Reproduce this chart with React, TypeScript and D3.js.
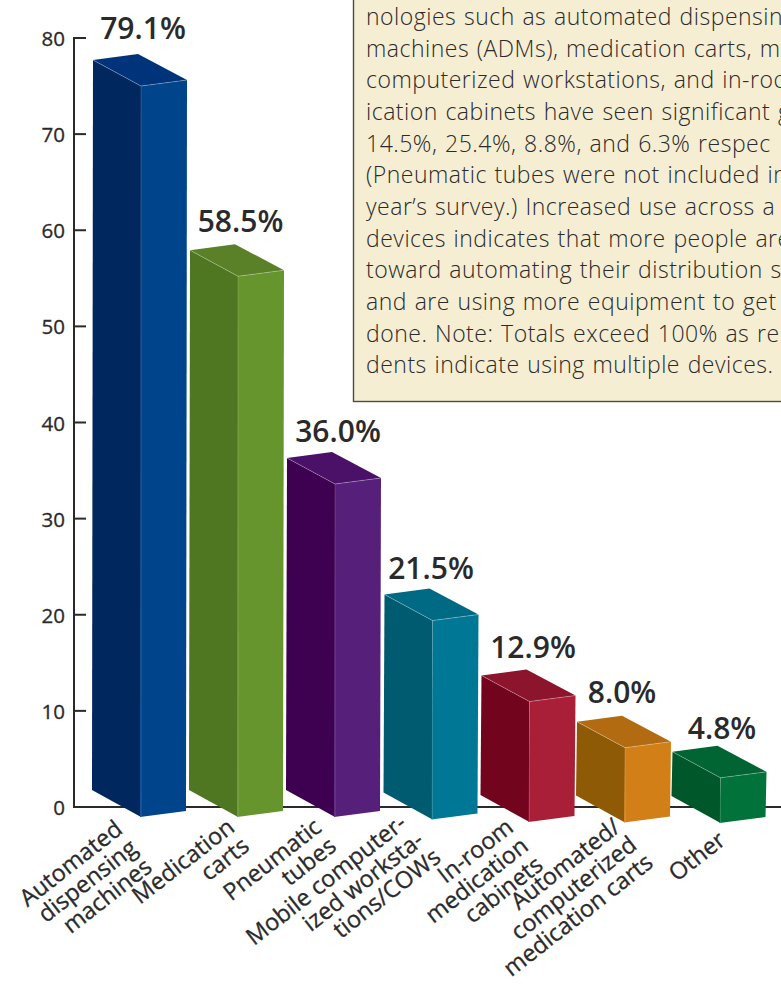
import React from "react";
import * as d3 from "d3";

const W = 781, H = 986;
const categories = [
  ["Automated", "dispensing", "machines"],
  ["Medication", "carts"],
  ["Pneumatic", "tubes"],
  ["Mobile computer-", "ized worksta-", "tions/COWs"],
  ["In-room", "medication", "cabinets"],
  ["Automated/", "computerized", "medication carts"],
  ["Other"],
];
const values = [79.1, 58.5, 36.0, 21.5, 12.9, 8.0, 4.8];
const ticks = [0, 10, 20, 30, 40, 50, 60, 70, 80];
const leftFaces = ["#00285f", "#4f7722", "#3e0050", "#005b70", "#72051d", "#8f5a05", "#00582a"];
const rightFaces = ["#00458c", "#66952e", "#56207a", "#007895", "#a91f38", "#d37f18", "#017239"];
const topFaces = ["#00337a", "#5a8028", "#4b1068", "#006a85", "#8c152d", "#b26b10", "#006533"];
const noteLines = [
  "nologies such as automated dispensin",
  "machines (ADMs), medication carts, m",
  "computerized workstations, and in-roo",
  "ication cabinets have seen significant g",
  "14.5%, 25.4%, 8.8%, and 6.3% respec",
  "(Pneumatic tubes were not included in",
  "year’s survey.) Increased use across a v",
  "devices indicates that more people are",
  "toward automating their distribution sy",
  "and are using more equipment to get",
  "done. Note: Totals exceed 100% as re",
  "dents indicate using multiple devices.",
];

const FONT = "'Open Sans', 'Noto Sans', sans-serif";
const INK = "#2b2a2b";

// Layout (pixels), kept apart from the data above
const barIdx = [0, 1, 2, 3, 4, 5, 6];
const yAxis = d3.scaleLinear().domain([0, 80]).range([807, 38]);
const yTop = d3.scaleLinear().domain([0, 36, 80]).range([791, 452, 45.7]);
const xBar = d3.scaleLinear().domain(barIdx).range([93, 190, 287, 384.5, 481.5, 577, 672.5]);
const yBase = d3.scaleLinear().domain([0, 2, 4, 6]).range([790, 790, 795, 796]);
const labelEndX = d3.scaleLinear().domain(barIdx).range([124, 236, 323, 408, 515, 622, 727]);
const labelEndY = d3.scaleLinear().domain(barIdx).range([832, 830, 830, 826, 830, 830, 843]);
const lineShift = d3.scaleLinear().domain(barIdx).range([0, 0, 0, 3, 0, 2, 0]);
const valueDx = d3.scaleLinear().domain(barIdx).range([50, 50.5, 51, 46.5, 51.5, 45, 49.5]);
const valueDy = d3.scaleLinear().domain(barIdx).range([15, 12, 10, 10, 12, 13, 7]);
const line = d3.line();

export default function App() {
  return (
    <svg width={W} height={H} style={{ position: "absolute", left: 0, top: 0, background: "#fff", fontFamily: FONT }}>
      <rect x={353.5} y={-10} width={W} height={411.5} fill="#f6eed3" stroke="#4a4a48" strokeWidth={1.4} />
      {noteLines.map((t, i) => (
        <text key={i} x={366} y={25 + i * 31.65} fontSize={23} fontWeight={300} fill={INK} letterSpacing={0.5} wordSpacing={1.2}>{t}</text>
      ))}

      <path d={`M86 ${yAxis(80)}H74V${yAxis(0)}H${W}`} fill="none" stroke={INK} strokeWidth={2} />
      {ticks.map((t) => (
        <g key={t}>
          <line x1={74} x2={86} y1={yAxis(t)} y2={yAxis(t)} stroke={INK} strokeWidth={2} />
          <text x={65} y={yAxis(t) + 8} textAnchor="end" fontSize={20.5} fontWeight={400} stroke={INK} strokeWidth={0.3} fill={INK}>{t}</text>
        </g>
      ))}

      {values.map((v, i) => {
        const x = xBar(i), lx = x, cx = x + 48, rx = x + 94, bx = x + 45;
        const back = yTop(v);
        const tl = back + 6, tc = back + 32, tr = back + 26;
        const base = yBase(i);
        const bl = base, bc = base + 27, br = base + 21;
        return (
          <g key={i}>
            <path d={line([[lx, tl], [cx, tc], [cx, bc], [lx - 1, bl]])!} fill={leftFaces[i]} />
            <path d={line([[cx, tc], [rx, tr], [rx - 1, br], [cx - 1, bc]])!} fill={rightFaces[i]} />
            <path d={line([[lx, tl], [bx, back], [rx, tr], [cx, tc]])!} fill={topFaces[i]} />
            <path d={line([[lx, tl], [cx, tc], [rx, tr]])!} fill="none" stroke="#fff" strokeOpacity={0.35} strokeWidth={0.8} />
            <line x1={cx} x2={cx} y1={tc} y2={bc} stroke="#fff" strokeOpacity={0.2} strokeWidth={0.8} />
            <text x={x + valueDx(i)} y={back - valueDy(i)} textAnchor="middle" fontSize={30} fontWeight={600} fill={INK}>
              {v.toFixed(1)}%
            </text>
            <g transform={`translate(${labelEndX(i)},${labelEndY(i)}) rotate(-38)`}>
              {categories[i].map((c, k) => (
                <text key={k} x={k * lineShift(i)} y={k * 24} textAnchor="end" fontSize={23.5} fontWeight={400} stroke={INK} strokeWidth={0.3} fill={INK}>
                  {c}
                </text>
              ))}
            </g>
          </g>
        );
      })}
    </svg>
  );
}
